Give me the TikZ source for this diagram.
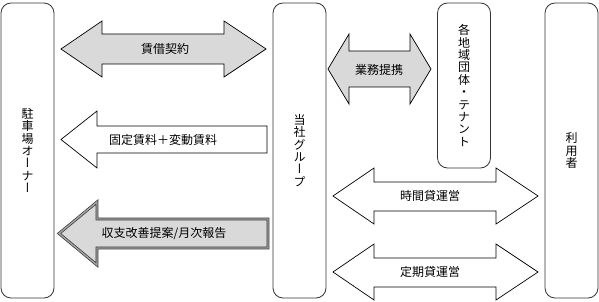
\documentclass[tikz,border=0pt]{standalone}
\usepackage{fontspec}
\setmainfont{Noto Sans CJK JP}
\newfontfamily\tatefont[RawFeature=+vert]{Noto Sans CJK JP}
\definecolor{arrowgray}{HTML}{D9D9D9}
\definecolor{linegray}{HTML}{333333}
\usetikzlibrary{positioning}
\tikzset{
	partybox/.style={
			draw=linegray,
			line width=0.8pt,
			rounded corners=10pt,
			minimum width=53pt,
			inner sep=0pt,
			align=center,
			font=\tatefont\fontsize{12}{12.4}\selectfont
		},
	blockarrow/.style={
			draw=black,
			line width=0.7pt,
			fill=white
		},
	grayarrow/.style={
			blockarrow,
			fill=arrowgray
		},
	doublearrow/.style={
			draw=linegray,
			line width=0.7pt,
			double=black!35,
			double distance=1.4pt,
			fill=arrowgray
		},
	arrowlabel/.style={
			inner sep=1pt,
			font=\fontsize{12}{12}\selectfont
		}
}

\begin{document}
\begin{tikzpicture}[x=1pt, y=-1pt]
\useasboundingbox (0,0) rectangle (599,302);

% parties
\node[partybox, minimum height=295pt] (owner) at (27.5,150.5) {駐\\車\\場\\オ\\ー\\ナ\\ー};
\node[partybox, minimum height=295pt] (group) at (299.5,150.5) {当\\社\\グ\\ル\\ー\\プ};
\node[partybox, minimum height=165pt] (tenant) at (464,85.5) {各\\地\\域\\団\\体\\・\\テ\\ナ\\ン\\ト};
\node[partybox, minimum height=295pt] (user) at (571.5,150.5) {利\\用\\者};

% owner <-> group
\draw[grayarrow] (61,49) -- (102,21) -- (102,34) -- (224,34) -- (224,21) -- (266,49)
  -- (224,77) -- (224,64) -- (102,64) -- (102,77) -- cycle;
\node[arrowlabel] (lease) at (165,49) {賃借契約};

\draw[blockarrow] (61,139.5) -- (97,111) -- (97,126) -- (267,126) -- (267,153)
  -- (97,153) -- (97,168) -- cycle;
\node[arrowlabel] (rent) at (163,140) {固定賃料＋変動賃料};

\draw[doublearrow] (59,233.5) -- (97,202) -- (97,219) -- (268,219) -- (268,248)
  -- (97,248) -- (97,265) -- cycle;
\node[arrowlabel] (report) at (164,234) {収支改善提案/月次報告};

% group <-> tenant
\draw[grayarrow] (328,69) -- (349,34) -- (349,51) -- (410,51) -- (410,34) -- (431,69)
  -- (410,104) -- (410,87) -- (349,87) -- (349,104) -- cycle;
\node[arrowlabel] (alliance) at (379,70) {業務提携};

% group <-> user
\draw[blockarrow] (333,196) -- (374,168) -- (374,182) -- (496,182) -- (496,168) -- (538,196)
  -- (496,224) -- (496,211) -- (374,211) -- (374,224) -- cycle;
\node[arrowlabel] (hourly) at (430,196) {時間貸運営};

\draw[blockarrow] (333,272) -- (374,244) -- (374,258) -- (496,258) -- (496,244) -- (538,272)
  -- (496,300) -- (496,287) -- (374,287) -- (374,300) -- cycle;
\node[arrowlabel] (monthly) at (430,272) {定期貸運営};
\end{tikzpicture}
\end{document}
